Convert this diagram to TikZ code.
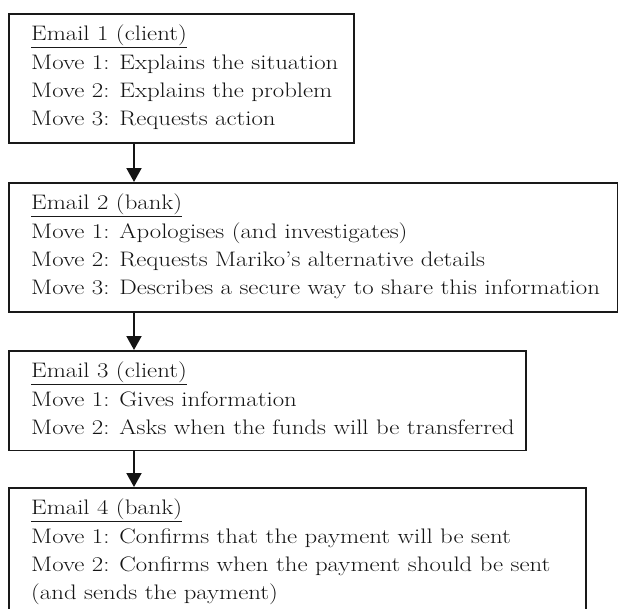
\documentclass[tikz,border=0pt]{standalone}
\usepackage{fontspec}
\setmainfont{Latin Modern Roman}[FakeStretch=1.18]
\usetikzlibrary{arrows.meta}
\tikzset{
  box/.style={draw=black!90, line width=1.5pt, anchor=north west, inner sep=0pt, fill=none},
  ln/.style={anchor=base west, inner sep=0pt, text=black!92, font=\fontsize{21}{24}\selectfont},
  uline/.style={draw=black!90, line width=1.1pt},
  arr/.style={draw=black!92, line width=2pt, -{Triangle[width=15pt,length=14pt]}}
}
\begin{document}
\begin{tikzpicture}[x=1pt,y=-1pt]
\useasboundingbox (0,0) rectangle (618,608);
% boxes
\node[box, minimum width=345pt, minimum height=129pt] (b1) at (8,13) {};
\node[box, minimum width=609pt, minimum height=129pt] (b2) at (8,182) {};
\node[box, minimum width=517pt, minimum height=99.5pt] (b3) at (8,350) {};
\node[box, minimum width=577pt, minimum height=129pt] (b4) at (8,487) {};
% box 1
\node[ln] (h1) at (31,40.7) {Email 1 (client)};
\node[ln] (m11) at (31,69.1) {Move 1: Explains the situation};
\node[ln] (m12) at (31,97.5) {Move 2: Explains the problem};
\node[ln] (m13) at (31,125.9) {Move 3: Requests action};
% box 2
\node[ln] (h2) at (31,209.7) {Email 2 (bank)};
\node[ln] (m21) at (31,238.1) {Move 1: Apologises (and investigates)};
\node[ln] (m22) at (31,266.5) {Move 2: Requests Mariko’s alternative details};
\node[ln] (m23) at (31,294.9) {Move 3: Describes a secure way to share this information};
% box 3
\node[ln] (h3) at (31,377.7) {Email 3 (client)};
\node[ln] (m31) at (31,406.1) {Move 1: Gives information};
\node[ln] (m32) at (31,434.5) {Move 2: Asks when the funds will be transferred};
% box 4
\node[ln] (h4) at (31,514.7) {Email 4 (bank)};
\node[ln] (m41) at (31,543.1) {Move 1: Confirms that the payment will be sent};
\node[ln] (m42) at (31,571.5) {Move 2: Confirms when the payment should be sent};
\node[ln] (m43) at (31,599.9) {(and sends the payment)};
% underlines
\foreach \h in {h1,h2,h3,h4}
  \draw[uline] ([yshift=-6.5pt]\h.base west) -- ([yshift=-6.5pt]\h.base east);
% arrows
\draw[arr] ([xshift=126pt]b1.south west) -- ([xshift=126pt]b2.north west);
\draw[arr] ([xshift=126pt]b2.south west) -- ([xshift=126pt]b3.north west);
\draw[arr] ([xshift=126pt]b3.south west) -- ([xshift=126pt]b4.north west);
\end{tikzpicture}
\end{document}
